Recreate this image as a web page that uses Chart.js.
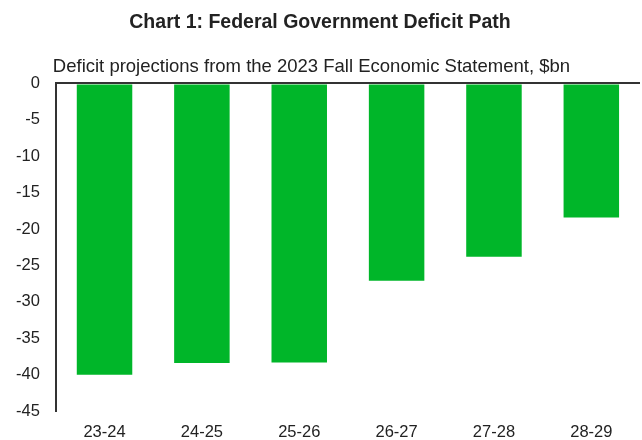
<!DOCTYPE html>
<html>
<head>
<meta charset="utf-8">
<script src="https://cdn.jsdelivr.net/npm/chart.js@4"></script>
<style>
  body { margin: 0; background: #fff; }
  #wrap { width: 642px; height: 440px; }
</style>
</head>
<body>
<div id="wrap"><canvas id="deficit-chart"></canvas></div>
<script>
const fiscalYears = ["23-24", "24-25", "25-26", "26-27", "27-28", "28-29"];
const deficit = [-40.0, -38.4, -38.3, -27.1, -23.8, -18.4];
const yTicks = [0, -5, -10, -15, -20, -25, -30, -35, -40, -45];

const titleText = "Chart 1: Federal Government Deficit Path";
const subtitleText = "Deficit projections from the 2023 Fall Economic Statement, $bn";

const textColor = "#222";
const axisColor = "#333";
const barColor = "#00b629";
const fontFamily = "'Liberation Sans', Arial, sans-serif";

// Subtitle sits over the plot, starting at the y axis
const subtitlePlugin = {
  id: "leftSubtitle",
  afterDraw(chart) {
    const { ctx, chartArea } = chart;
    ctx.save();
    ctx.font = "18.5px " + fontFamily;
    ctx.fillStyle = textColor;
    ctx.textAlign = "left";
    ctx.textBaseline = "alphabetic";
    ctx.fillText(subtitleText, chartArea.left - 3, chartArea.top - 11);
    ctx.restore();
  },
};

const ctx = document.getElementById("deficit-chart");

new Chart(ctx, {
  type: "bar",
  data: {
    labels: fiscalYears,
    datasets: [
      {
        data: deficit,
        backgroundColor: barColor,
        borderWidth: 0,
        categoryPercentage: 1,
        barPercentage: 0.57,
      },
    ],
  },
  options: {
    responsive: true,
    maintainAspectRatio: false,
    animation: false,
    layout: {
      padding: { top: 0, right: 2, bottom: -2, left: 0 },
    },
    plugins: {
      legend: { display: false },
      tooltip: { enabled: false },
      title: {
        display: true,
        text: titleText,
        color: textColor,
        font: { family: fontFamily, size: 19.5, weight: "bold" },
        padding: { top: 11, bottom: 49 },
      },
    },
    scales: {
      x: {
        grid: { display: false, tickLength: 11 },
        border: { display: false },
        ticks: {
          color: textColor,
          padding: 0,
          font: { family: fontFamily, size: 16.5 },
        },
      },
      y: {
        min: -45,
        max: 0,
        afterBuildTicks(axis) {
          axis.ticks = yTicks.map((v) => ({ value: v }));
        },
        grid: {
          drawTicks: false,
          color: (c) => (c.tick && c.tick.value === 0 ? axisColor : "rgba(0,0,0,0)"),
          lineWidth: 2,
        },
        border: { display: true, color: axisColor, width: 2 },
        ticks: {
          color: textColor,
          padding: 16,
          font: { family: fontFamily, size: 16.5 },
        },
      },
    },
  },
  plugins: [subtitlePlugin],
});
</script>
</body>
</html>
